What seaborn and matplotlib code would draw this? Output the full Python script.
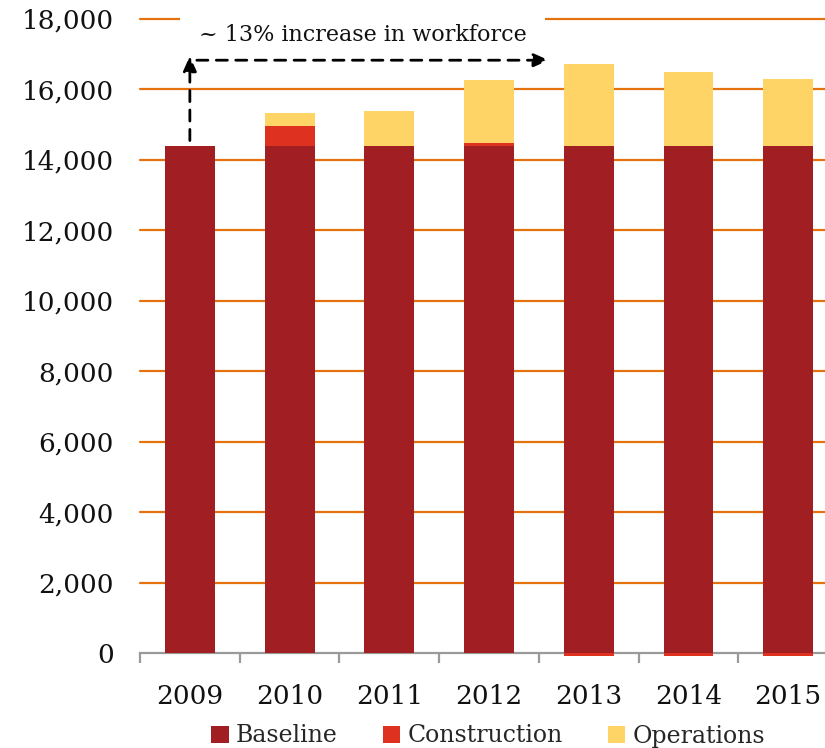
import matplotlib
matplotlib.use("Agg")
import matplotlib.pyplot as plt
from matplotlib.patches import Rectangle
from matplotlib.ticker import FuncFormatter, FixedLocator
import seaborn as sns
import pandas as pd
import numpy as np

# Workforce by year, split into components
years = ["2009", "2010", "2011", "2012", "2013", "2014", "2015"]
baseline = [14400, 14400, 14400, 14400, 14400, 14400, 14400]
construction = [0, 550, 0, 70, -80, -80, -80]
operations = [0, 380, 990, 1800, 2330, 2100, 1890]

series_names = ["Baseline", "Construction", "Operations"]
colors = {"Baseline": "#A11F22", "Construction": "#DF3120", "Operations": "#FFD467"}
grid_color = "#E4720F"
y_ticks = list(range(0, 18001, 2000))

df = pd.DataFrame({"year": years, "Baseline": baseline,
                   "Construction": construction, "Operations": operations})
# Positive construction stacks on baseline; negative goes below zero
df["constr_bottom"] = np.where(df["Construction"] >= 0, df["Baseline"], 0)
df["ops_bottom"] = df["Baseline"] + df["Construction"].clip(lower=0)

sns.set_style("white")
plt.rcParams["font.family"] = ["DejaVu Serif"]

fig = plt.figure(figsize=(8.25, 7.48), dpi=100)
ax = fig.add_axes([140 / 825, 95 / 748, 698 / 825, 634 / 748])

bw = 0.5
sns.barplot(data=df, x="year", y="Baseline", color=colors["Baseline"],
            width=bw, ax=ax, saturation=1, zorder=3, linewidth=0)
sns.barplot(data=df, x="year", y="Construction", bottom=df["constr_bottom"],
            color=colors["Construction"], width=bw, ax=ax, saturation=1,
            zorder=3, linewidth=0)
sns.barplot(data=df, x="year", y="Operations", bottom=df["ops_bottom"],
            color=colors["Operations"], width=bw, ax=ax, saturation=1,
            zorder=3, linewidth=0)
# Let the small negative slivers show below the axis line
for p in ax.patches:
    p.set_clip_on(False)

ax.set_xlim(-0.5, len(years) - 0.5)
ax.set_ylim(0, 18000)
ax.yaxis.set_major_locator(FixedLocator(y_ticks))
ax.yaxis.set_major_formatter(FuncFormatter(lambda v, p: f"{int(v):,}"))

# Orange horizontal gridlines (the zero line is the grey axis)
for v in y_ticks[1:]:
    ax.axhline(v, color=grid_color, lw=1.6, zorder=1, clip_on=False)

for s in ["top", "right", "left"]:
    ax.spines[s].set_visible(False)
ax.spines["bottom"].set_color("#9A9A9A")
ax.spines["bottom"].set_linewidth(1.6)
ax.spines["bottom"].set_zorder(2)

ax.tick_params(axis="y", length=0, labelsize=19, pad=19, labelcolor="#111111")
ax.tick_params(axis="x", which="major", length=0, labelsize=19, pad=22,
               labelcolor="#111111")
ax.set_xticks(np.arange(-0.5, len(years) - 0.4, 1.0), minor=True)
ax.tick_params(axis="x", which="minor", bottom=True, direction="out", length=7,
               width=1.6, color="#9A9A9A")
ax.set_xlabel("")
ax.set_ylabel("")

# White break in the top gridline behind the annotation
ax.add_patch(Rectangle((-0.1, 17300), 3.66, 1100, facecolor="white",
                       edgecolor="none", zorder=2, clip_on=False))
ax.text(1.74, 17550, "~ 13% increase in workforce", ha="center", va="center",
        fontsize=16, color="#111111", zorder=4)

# Dashed arrows: up from the 2009 bar, then across
ax.annotate("", xy=(0.0, 16950), xytext=(0.0, 14550),
            arrowprops=dict(arrowstyle="-|>,head_length=0.9,head_width=0.4",
                            linestyle=(0, (4, 3)), lw=2, color="black",
                            shrinkA=0, shrinkB=0), zorder=4)
ax.annotate("", xy=(3.6, 16830), xytext=(0.07, 16830),
            arrowprops=dict(arrowstyle="-|>,head_length=0.9,head_width=0.4",
                            linestyle=(0, (4, 3)), lw=2, color="black",
                            shrinkA=0, shrinkB=0), zorder=4)

handles = [Rectangle((0, 0), 1, 1, facecolor=colors[n], edgecolor="none")
           for n in series_names]
fig.legend(handles, series_names, loc="center", bbox_to_anchor=(488 / 825, 1 - 736 / 748),
           ncol=3, frameon=False, fontsize=17, handlelength=0.75, handleheight=0.75,
           handletextpad=0.3, columnspacing=1.9)

fig.savefig("out.png", dpi=100)
